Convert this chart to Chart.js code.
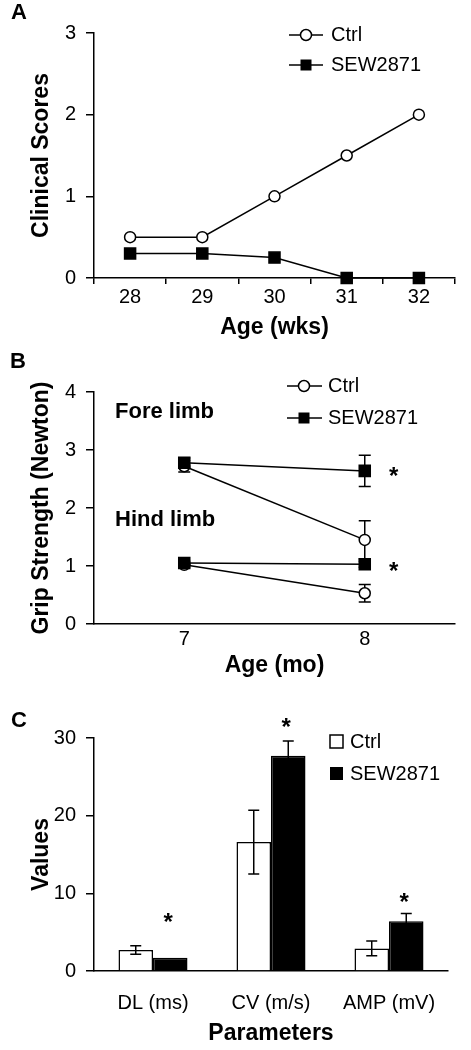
<!DOCTYPE html>
<html>
<head>
<meta charset="utf-8">
<script src="https://cdn.jsdelivr.net/npm/chart.js@4.4.1/dist/chart.umd.min.js"></script>
<style>
  html, body { margin: 0; padding: 0; background: #fff; }
  #wrap { position: relative; width: 471px; height: 1050px; }
  canvas { position: absolute; left: 0; }
</style>
</head>
<body>
<div id="wrap">
  <canvas id="chartA" width="471" height="345" style="top:0px"></canvas>
  <canvas id="chartB" width="471" height="350" style="top:340px"></canvas>
  <canvas id="chartC" width="471" height="360" style="top:690px"></canvas>
</div>
<script>
// Panel A - clinical scores
const weeks = ['28', '29', '30', '31', '32'];
const scoreCtrl = [0.5, 0.5, 1, 1.5, 2];
const scoreSew = [0.3, 0.3, 0.25, 0, 0];

// Panel B - grip strength
const months = ['7', '8'];
const foreCtrl = [2.72, 1.45];
const foreCtrlErr = [0.1, 0.33];
const foreSew = [2.78, 2.64];
const foreSewErr = [0.08, 0.27];
const hindCtrl = [1.02, 0.53];
const hindCtrlErr = [0.04, 0.15];
const hindSew = [1.05, 1.03];
const hindSewErr = [0.03, 0.05];

// Panel C - nerve conduction
const params = ['DL (ms)', 'CV (m/s)', 'AMP (mV)'];
const paramCtrl = [2.7, 16.6, 2.9];
const paramCtrlErr = [0.55, 4.1, 0.95];
const paramSew = [1.7, 27.7, 6.4];
const paramSewErr = [0, 1.9, 1.0];
const paramStar = [6.9, 32.0, 9.5];

const FONT = "'Liberation Sans', Arial, Helvetica, sans-serif";
Chart.defaults.font.family = FONT;
Chart.defaults.color = '#000';

// 公共坐标轴
function yAxis(max, step, text) {
    return {
        min: 0,
        max: max,
        ticks: { stepSize: step, font: { size: 20 }, padding: 10 },
        grid: { drawOnChartArea: false, drawTicks: true, tickLength: 8, color: '#000', lineWidth: 1.5 },
        border: { display: true, color: '#000', width: 1.5 },
        title: { display: true, text: text, font: { size: 23, weight: 'bold' }, padding: { top: 28, bottom: 0 } },
        afterFit: function(s) { s.width = 94; }
    };
}

function xAxis(text, height, opts) {
    return {
        offset: true,
        ticks: { font: { size: 20 }, padding: opts.padding },
        grid: {
            display: true, drawOnChartArea: false, offset: true,
            drawTicks: opts.ticks, tickLength: opts.ticks ? 6 : 0,
            color: '#000', lineWidth: 1.5
        },
        border: { display: true, color: '#000', width: 1.5 },
        title: { display: true, text: text, font: { size: 23, weight: 'bold' }, padding: { top: 0, bottom: opts.titlePad } },
        afterFit: function(s) { s.height = height; }
    };
}

function lineSet(label, data, open) {
    return {
        label: label,
        data: data,
        borderColor: '#000',
        borderWidth: 1.5,
        pointStyle: open ? 'circle' : 'rect',
        pointRadius: open ? 5.5 : 7.8,
        pointBackgroundColor: open ? '#fff' : '#000',
        pointBorderColor: '#000',
        pointBorderWidth: 1.5,
        clip: false
    };
}

// 文本
function text(ctx, str, x, y, size, bold, align) {
    ctx.save();
    ctx.font = (bold ? 'bold ' : '') + size + 'px ' + FONT;
    ctx.fillStyle = '#000';
    ctx.textAlign = align || 'left';
    ctx.textBaseline = 'middle';
    ctx.fillText(str, x, y);
    ctx.restore();
}

// 线图图例
function lineLegend(ctx, x1, x2, mx, tx, y, open, label) {
    ctx.save();
    ctx.strokeStyle = '#000';
    ctx.lineWidth = 1.5;
    ctx.beginPath();
    ctx.moveTo(x1, y);
    ctx.lineTo(x2, y);
    ctx.stroke();
    if (open) {
        ctx.beginPath();
        ctx.arc(mx, y, 5.5, 0, Math.PI * 2);
        ctx.fillStyle = '#fff';
        ctx.fill();
        ctx.stroke();
    } else {
        ctx.fillStyle = '#000';
        ctx.fillRect(mx - 5.5, y - 5.5, 11, 11);
    }
    ctx.restore();
    text(ctx, label, tx, y, 20, false);
}

// 误差线
function errBar(ctx, x, yTop, yBot, half) {
    if (yTop === yBot) return;
    ctx.save();
    ctx.strokeStyle = '#000';
    ctx.lineWidth = 1.5;
    ctx.beginPath();
    ctx.moveTo(x, yTop);
    ctx.lineTo(x, yBot);
    ctx.moveTo(x - half, yTop);
    ctx.lineTo(x + half, yTop);
    ctx.moveTo(x - half, yBot);
    ctx.lineTo(x + half, yBot);
    ctx.stroke();
    ctx.restore();
}

// ---- A ----
new Chart(document.getElementById('chartA'), {
    type: 'line',
    data: {
        labels: weeks,
        datasets: [lineSet('Ctrl', scoreCtrl, true), lineSet('SEW2871', scoreSew, false)]
    },
    options: {
        responsive: false,
        animation: false,
        layout: { padding: { top: 33, right: 16, left: 0, bottom: 0 } },
        plugins: { legend: { display: false }, tooltip: { enabled: false } },
        scales: {
            x: xAxis('Age (wks)', 67, { ticks: true, padding: 1, titlePad: 4 }),
            y: yAxis(3, 1, 'Clinical Scores')
        }
    },
    plugins: [{
        id: 'decorA',
        afterDraw: function(chart) {
            const ctx = chart.ctx;
            text(ctx, 'A', 11, 13, 22, true);
            lineLegend(ctx, 289, 323, 306, 331, 35, true, 'Ctrl');
            lineLegend(ctx, 289, 323, 306, 331, 65, false, 'SEW2871');
        }
    }]
});

// ---- B ----
const gripErr = [foreSewErr, hindSewErr, foreCtrlErr, hindCtrlErr];
new Chart(document.getElementById('chartB'), {
    type: 'line',
    data: {
        labels: months,
        datasets: [
            lineSet('SEW2871', foreSew, false),
            lineSet('SEW2871', hindSew, false),
            lineSet('Ctrl', foreCtrl, true),
            lineSet('Ctrl', hindCtrl, true)
        ]
    },
    options: {
        responsive: false,
        animation: false,
        layout: { padding: { top: 52, right: 16, left: 0, bottom: 0 } },
        plugins: { legend: { display: false }, tooltip: { enabled: false } },
        scales: {
            x: xAxis('Age (mo)', 66, { ticks: false, padding: 3, titlePad: 11 }),
            y: yAxis(4, 1, 'Grip Strength (Newton)')
        }
    },
    plugins: [{
        id: 'decorB',
        beforeDatasetsDraw: function(chart) {
            const ctx = chart.ctx;
            const ys = chart.scales.y;
            chart.data.datasets.forEach(function(ds, i) {
                const meta = chart.getDatasetMeta(i);
                ds.data.forEach(function(v, j) {
                    const e = gripErr[i][j];
                    errBar(ctx, meta.data[j].x, ys.getPixelForValue(v + e), ys.getPixelForValue(v - e), 6);
                });
            });
        },
        afterDraw: function(chart) {
            const ctx = chart.ctx;
            const xs = chart.scales.x, ys = chart.scales.y;
            text(ctx, 'B', 10, 22, 22, true);
            text(ctx, 'Fore limb', 115, 72, 22, true);
            text(ctx, 'Hind limb', 115, 180, 22, true);
            lineLegend(ctx, 287, 322, 304, 328, 46, true, 'Ctrl');
            lineLegend(ctx, 287, 322, 304, 328, 78, false, 'SEW2871');
            const sx = xs.getPixelForValue(1) + 29;
            text(ctx, '*', sx, ys.getPixelForValue(foreSew[1]) + 6, 24, true, 'center');
            text(ctx, '*', sx, ys.getPixelForValue(hindSew[1]) + 8, 24, true, 'center');
        }
    }]
});

// ---- C ----
new Chart(document.getElementById('chartC'), {
    type: 'bar',
    data: {
        labels: params,
        datasets: [
            { label: 'Ctrl', data: paramCtrl, backgroundColor: '#fff', borderColor: '#000', borderWidth: 1.5 },
            { label: 'SEW2871', data: paramSew, backgroundColor: '#000', borderColor: '#000', borderWidth: 1.5 }
        ]
    },
    options: {
        responsive: false,
        animation: false,
        categoryPercentage: 0.585,
        barPercentage: 1,
        layout: { padding: { top: 48, right: 23, left: 0, bottom: 0 } },
        plugins: { legend: { display: false }, tooltip: { enabled: false } },
        scales: {
            x: xAxis('Parameters', 79, { ticks: false, padding: 20, titlePad: 3 }),
            y: yAxis(30, 10, 'Values')
        }
    },
    plugins: [{
        id: 'decorC',
        afterDatasetsDraw: function(chart) {
            const ctx = chart.ctx;
            const ys = chart.scales.y;
            const errs = [paramCtrlErr, paramSewErr];
            chart.data.datasets.forEach(function(ds, i) {
                const meta = chart.getDatasetMeta(i);
                ds.data.forEach(function(v, j) {
                    errBar(ctx, meta.data[j].x, ys.getPixelForValue(v + errs[i][j]), ys.getPixelForValue(v - errs[i][j]), 5.5);
                });
            });
            const sew = chart.getDatasetMeta(1);
            paramStar.forEach(function(v, j) {
                text(ctx, '*', sew.data[j].x - 2, ys.getPixelForValue(v) + 6, 24, true, 'center');
            });
        },
        afterDraw: function(chart) {
            const ctx = chart.ctx;
            text(ctx, 'C', 11, 31, 22, true);
            ctx.save();
            ctx.lineWidth = 1.5;
            ctx.strokeStyle = '#000';
            ctx.fillStyle = '#fff';
            ctx.fillRect(330, 45, 13, 13);
            ctx.strokeRect(330, 45, 13, 13);
            ctx.fillStyle = '#000';
            ctx.fillRect(330, 77, 13, 13);
            ctx.restore();
            text(ctx, 'Ctrl', 350, 52, 20, false);
            text(ctx, 'SEW2871', 350, 84, 20, false);
        }
    }]
});
</script>
</body>
</html>
